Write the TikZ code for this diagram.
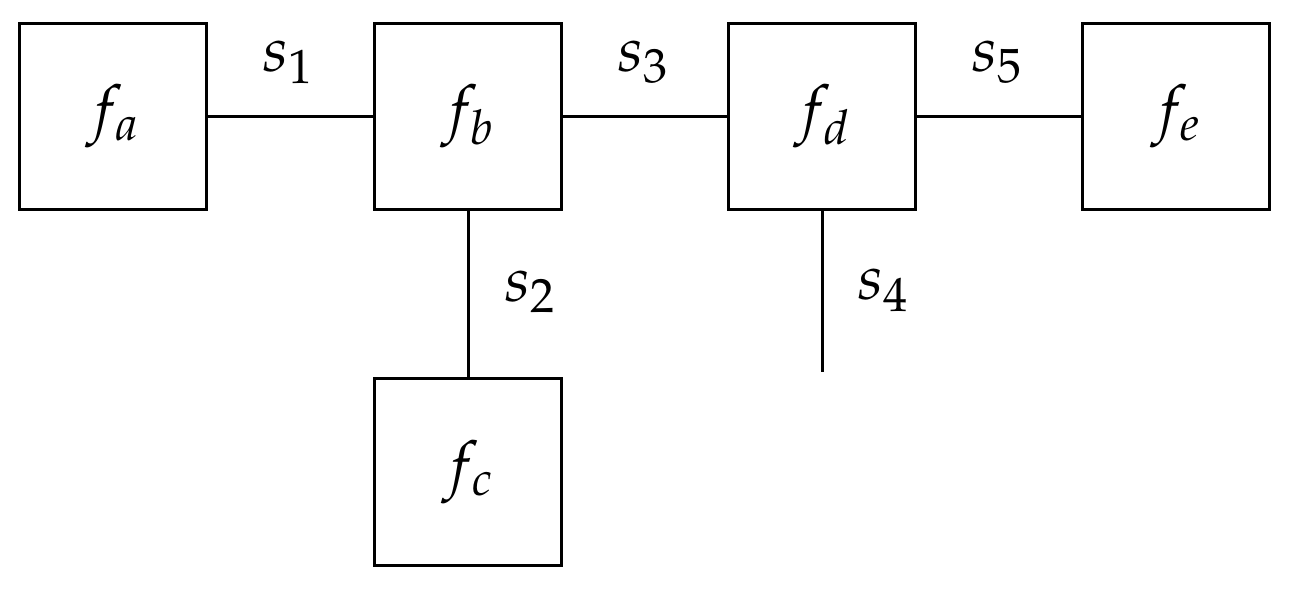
\documentclass[tikz,border=0pt]{standalone}
\usepackage{mathpazo}
\begin{document}
\begin{tikzpicture}[x=0.02cm,y=-0.02cm,
  fbox/.style={draw,line width=1.7pt,minimum size=3.8cm-1.7pt,inner sep=0pt,font=\fontsize{36}{40}\selectfont},
  lbl/.style={font=\fontsize{36}{40}\selectfont},
  conn/.style={line width=1.7pt}]
\useasboundingbox (0,0) rectangle (1294,591);
\node[fbox] (fa) at (113,116.5) {$f_a$};
\node[fbox] (fb) at (468,116.5) {$f_b$};
\node[fbox] (fd) at (822,116.5) {$f_d$};
\node[fbox] (fe) at (1176,116.5) {$f_e$};
\node[fbox] (fc) at (468,472) {$f_c$};
\coordinate (end4) at (822,372);
\draw[conn] (fa) -- (fb);
\draw[conn] (fb) -- (fd);
\draw[conn] (fd) -- (fe);
\draw[conn] (fb) -- (fc);
\draw[conn] (fd.south) -- (end4);
\node[lbl] (s1) at (288,62) {$s_1$};
\node[lbl] (s3) at (643,62) {$s_3$};
\node[lbl] (s5) at (997,62) {$s_5$};
\node[lbl] (s2) at (530,292) {$s_2$};
\node[lbl] (s4) at (883,290) {$s_4$};
\end{tikzpicture}
\end{document}
